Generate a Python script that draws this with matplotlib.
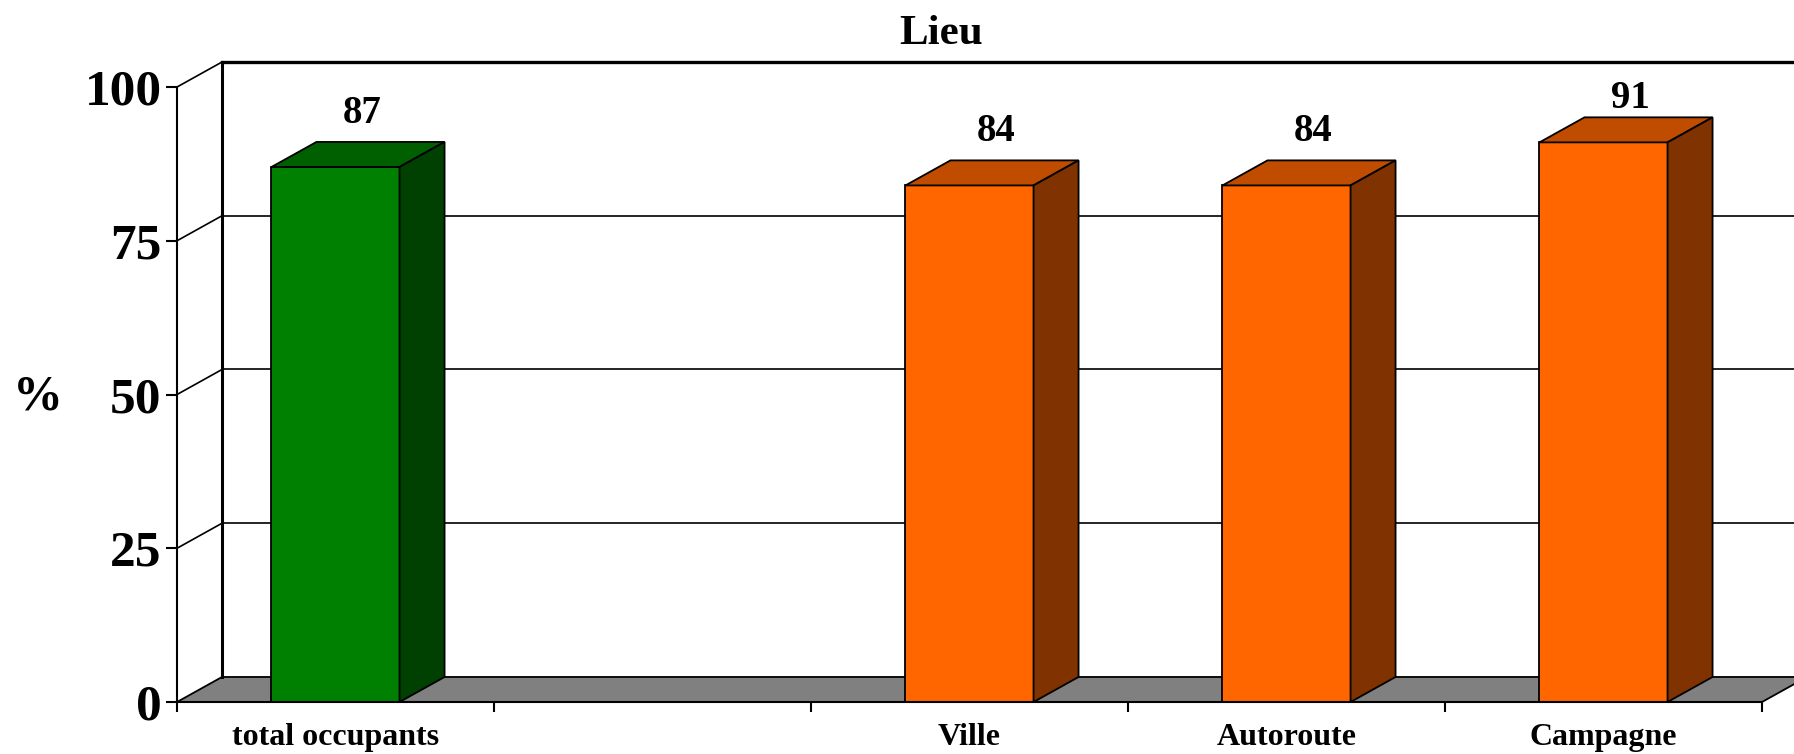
import numpy as np
import matplotlib.pyplot as plt
from matplotlib.patches import Polygon

plt.rcParams['font.family'] = ['Liberation Serif', 'DejaVu Serif']
plt.rcParams['font.weight'] = 'bold'

# données
categories = ["total occupants", "", "Ville", "Autoroute", "Campagne"]
values = [87, np.nan, 84, 84, 91]
front_colors = ["#008000", "#FF6600", "#FF6600", "#FF6600", "#FF6600"]
top_colors = ["#006000", "#C04C00", "#C04C00", "#C04C00", "#C04C00"]
side_colors = ["#004000", "#803300", "#803300", "#803300", "#803300"]
yticks = [0, 25, 50, 75, 100]
title = "Lieu"

# effet 3D (profondeur en unités de données)
dx, dy = 0.142, 4.07
w = 0.404
n = len(categories)
xc = np.arange(n) + 0.5

fig = plt.figure(figsize=(17.94, 7.54), dpi=100)
ax = fig.add_axes([0, 0, 1, 1])
ax.set_xlim(-0.5584, 5.1009)
ax.set_ylim(-8.455, 114.15)

# sol gris
floor = Polygon([(0, 0), (n, 0), (n + dx, dy), (dx, dy)], closed=True,
                facecolor="#808080", edgecolor="black", lw=1.3, zorder=1)
ax.add_patch(floor)

# mur du fond + quadrillage
for t in yticks[1:]:
    lw = 2.4 if t == 100 else 1.2
    ax.plot([0, dx], [t, t + dy], color="black", lw=1.2, zorder=2)
    ax.plot([dx, n + dx], [t + dy, t + dy], color="black", lw=lw, zorder=2)
ax.plot([dx, dx], [dy, 100 + dy], color="black", lw=2.2, zorder=2)

# barres
for i in range(n):
    v = values[i]
    if np.isnan(v):
        continue
    x0, x1 = xc[i] - w / 2, xc[i] + w / 2
    ax.bar(xc[i], v, width=w, color=front_colors[i], edgecolor="black",
           linewidth=1.3, zorder=4)
    top = Polygon([(x0, v), (x1, v), (x1 + dx, v + dy), (x0 + dx, v + dy)],
                  closed=True, facecolor=top_colors[i], edgecolor="black",
                  lw=1.3, zorder=4)
    side = Polygon([(x1, 0), (x1 + dx, dy), (x1 + dx, v + dy), (x1, v)],
                   closed=True, facecolor=side_colors[i], edgecolor="black",
                   lw=1.3, zorder=4)
    ax.add_patch(top)
    ax.add_patch(side)
    # étiquette gardée dans la zone du graphique
    ly = min(v + dy + 4.7, 100 + dy - 6.0)
    ax.text(xc[i] + dx * 0.6, ly, f"{v:.0f}", ha="center", va="center",
            fontsize=28, fontweight="bold", zorder=5)

# axes
for s in ["top", "right"]:
    ax.spines[s].set_visible(False)
ax.spines["left"].set_position(("data", 0))
ax.spines["bottom"].set_position(("data", 0))
ax.spines["left"].set_bounds(0, 100)
ax.spines["bottom"].set_bounds(0, n)
ax.spines["left"].set_linewidth(1.5)
ax.spines["bottom"].set_linewidth(1.5)
ax.spines["left"].set_zorder(6)
ax.spines["bottom"].set_zorder(6)

ax.set_yticks(yticks)
ax.set_yticklabels([str(t) for t in yticks], fontsize=37, fontweight="bold")
ax.tick_params(axis="y", direction="out", length=8, width=1.5, pad=3)

ax.set_xticks(np.arange(n + 1))
ax.set_xticklabels([])
ax.set_xticks(xc, minor=True)
ax.set_xticklabels(categories, minor=True, fontsize=23, fontweight="bold")
ax.tick_params(axis="x", which="major", direction="out", length=7, width=1.5)
ax.tick_params(axis="x", which="minor", length=0, pad=15)

fig.text(38 / 1794, 1 - 398 / 754, "%", fontsize=36, fontweight="bold",
         ha="center", va="center")
fig.text(941 / 1794, 1 - 34 / 754, title, fontsize=31, fontweight="bold",
         ha="center", va="center")

fig.savefig("out.png", dpi=100)
